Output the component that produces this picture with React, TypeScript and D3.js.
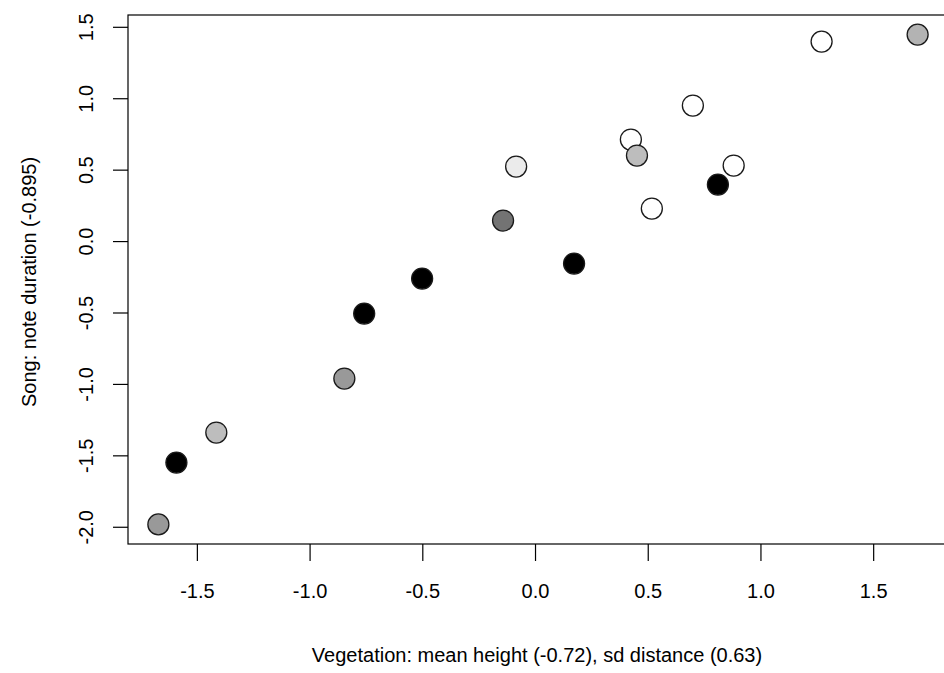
import React from 'react';
import * as d3 from 'd3';

// site scores on the two first axes
const vegetation = [-1.673, -1.593, -1.416, -0.848, -0.760, -0.503, -0.144, -0.086, 0.171, 0.423, 0.450, 0.516, 0.698, 0.809, 0.879, 1.269, 1.695];
const song = [-1.98, -1.547, -1.337, -0.959, -0.504, -0.259, 0.147, 0.525, -0.154, 0.714, 0.602, 0.231, 0.952, 0.399, 0.532, 1.40, 1.449];
const shade = ['#999999', '#000000', '#bdbdbd', '#999999', '#000000', '#000000', '#737373', '#ebebeb', '#000000', '#ffffff', '#bdbdbd', '#ffffff', '#ffffff', '#000000', '#ffffff', '#ffffff', '#b3b3b3'];

const xTicks = [-1.5, -1.0, -0.5, 0.0, 0.5, 1.0, 1.5];
const yTicks = [-2.0, -1.5, -1.0, -0.5, 0.0, 0.5, 1.0, 1.5];

const xTitle = 'Vegetation: mean height (-0.72), sd distance (0.63)';
const yTitle = 'Song: note duration (-0.895)';

const width = 944;
const height = 673;
const box = { left: 128, right: 948, top: 15, bottom: 544 };

// R style 4% padding around the data range
const pad = (ext: [number, number]) => {
  const r = ext[1] - ext[0];
  return [ext[0] - 0.04 * r, ext[1] + 0.04 * r];
};

const App = () => {
  const x = d3.scaleLinear()
    .domain(pad(d3.extent(vegetation) as [number, number]))
    .range([box.left, box.right]);
  const y = d3.scaleLinear()
    .domain(pad(d3.extent(song) as [number, number]))
    .range([box.bottom, box.top]);

  const font = 'Arial, "Liberation Sans", sans-serif';

  return (
    <svg width={width} height={height} style={{ position: 'absolute', left: 0, top: 0, background: '#fff' }}
      fontFamily={font}>
      <rect x={0} y={0} width={width} height={height} fill="#fff" />

      {/* points */}
      {vegetation.map((v, i) => (
        <circle key={i} cx={x(v)} cy={y(song[i])} r={10.5}
          fill={shade[i]} stroke="#1a1a1a" strokeWidth={1.3} />
      ))}

      {/* plot box */}
      <rect x={box.left} y={box.top} width={box.right - box.left} height={box.bottom - box.top}
        fill="none" stroke="#000" strokeWidth={1.2} />

      {/* x axis */}
      {xTicks.map(t => (
        <g key={'x' + t}>
          <line x1={x(t)} x2={x(t)} y1={box.bottom} y2={box.bottom + 17} stroke="#000" strokeWidth={1.2} />
          <text x={x(t)} y={598} textAnchor="middle" fontSize={20} fill="#000">{t.toFixed(1)}</text>
        </g>
      ))}

      {/* y axis */}
      {yTicks.map(t => (
        <g key={'y' + t}>
          <line x1={box.left - 15} x2={box.left} y1={y(t)} y2={y(t)} stroke="#000" strokeWidth={1.2} />
          <text x={93} y={y(t)} transform={`rotate(-90, 93, ${y(t)})`} textAnchor="middle" fontSize={20} fill="#000">{t.toFixed(1)}</text>
        </g>
      ))}

      {/* titles */}
      <text x={537} y={662} textAnchor="middle" fontSize={20} fill="#000">{xTitle}</text>
      <text x={36} y={282} transform="rotate(-90, 36, 282)" textAnchor="middle" fontSize={20} fill="#000">{yTitle}</text>
    </svg>
  );
};

export default App;
